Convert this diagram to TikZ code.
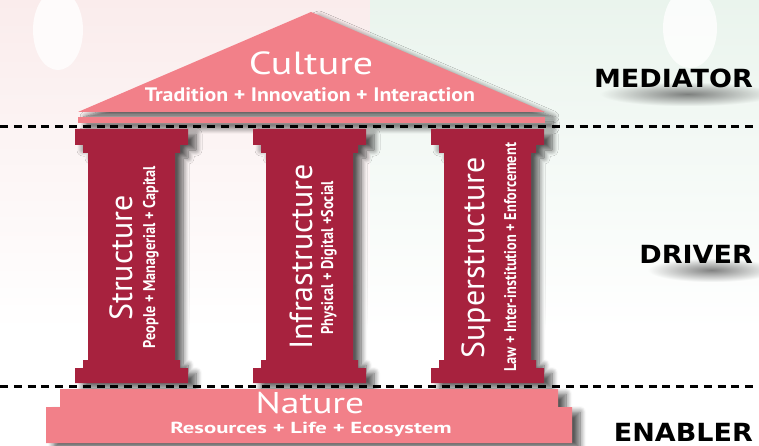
\documentclass[tikz,border=0pt]{standalone}
\usepackage{fontspec}
\usepackage{xcolor}
\usepackage{tikz}
\usetikzlibrary{shadows.blur,fadings}
\setmainfont{PT Sans}
\newfontfamily\Ancha[FakeStretch=1.25]{PT Sans}
\newfontfamily\AnchaSub[FakeStretch=1.12]{PT Sans}
\newfontfamily\AnchaBase[FakeStretch=1.42]{PT Sans}
\newfontfamily\Angosta[FakeStretch=0.84]{PT Sans}
\newfontfamily\Gruesa[FakeStretch=1.08]{DejaVu Sans}
\definecolor{Rosa}{RGB}{242, 128, 137}
\definecolor{Vino}{RGB}{167, 34, 62}
\definecolor{RosaFondo}{RGB}{250, 236, 236}
\definecolor{VerdeFondo}{RGB}{234, 244, 237}
\tikzfading[name=borrosa, inner color=transparent!35, outer color=transparent!100]

\tikzset{
  sombra/.style={blur shadow={shadow xshift=8pt, shadow yshift=-5pt,
      shadow blur radius=6pt, shadow blur steps=8, shadow opacity=65}},
  columna/.pic={
    \fill[Vino, sombra] (-56.5,129) -- (56.5,129) -- (56.5,145) -- (48.5,145)
      -- (48.5,153) -- (43.5,153) -- (43.5,360) -- (48.5,360) -- (48.5,368)
      -- (56.5,368) -- (56.5,383) -- (-56.5,383) -- (-56.5,368) -- (-48.5,368)
      -- (-48.5,360) -- (-43.5,360) -- (-43.5,153) -- (-48.5,153) -- (-48.5,145)
      -- (-56.5,145) -- cycle;
  },
  titulo/.style={text=white, inner sep=0pt, anchor=base,
    font=\fontsize{32}{32}\selectfont},
  subtitulo/.style={text=white, inner sep=0pt, anchor=base,
    font=\Angosta\bfseries\fontsize{17}{17}\selectfont},
  nivel/.style={inner sep=0pt, anchor=base east,
    font=\Gruesa\bfseries\fontsize{25}{25}\selectfont},
  banda/.style={fill=black!75, path fading=borrosa},
  linea/.style={line width=3pt, dash pattern=on 8pt off 5.8pt},
}

\begin{document}
\begin{tikzpicture}[x=1pt, y=-1pt]
  \useasboundingbox (0,0) rectangle (759,446);
  %Fondo
  \fill[RosaFondo, path fading=south] (0,0) rectangle (370,330);
  \fill[VerdeFondo, path fading=south] (370,0) rectangle (759,330);
  \fill[white, opacity=0.8] (58,30) ellipse (25 and 40);
  \fill[white, opacity=0.8] (690,28) ellipse (27 and 40);
  %Techo
  \fill[Rosa, sombra] (78,112) -- (311,12) -- (545,112) -- cycle;
  \fill[Rosa, sombra] (78,117) rectangle (545,123);
  \node[titulo, font=\Ancha\fontsize{32}{32}\selectfont] (cultura) at (311,75) {Culture};
  \node[subtitulo, font=\AnchaSub\bfseries\fontsize{19.5}{19.5}\selectfont] (culturaSub) at (310,102)
    {Tradition + Innovation + Interaction};
  %Columnas
  \pic at (131.5,0) {columna};
  \pic at (309.5,0) {columna};
  \pic at (487.5,0) {columna};
  \node[titulo, rotate=90] (estructura) at (132,258) {Structure};
  \node[subtitulo, rotate=90] (estructuraSub) at (155,257) {People + Managerial + Capital};
  \node[titulo, rotate=90] (infra) at (312,257) {Infrastructure};
  \node[subtitulo, rotate=90] (infraSub) at (333,257.5) {Physical + Digital +Social};
  \node[titulo, rotate=90] (super) at (484,258) {Superstructure};
  \node[subtitulo, rotate=90] (superSub) at (516,257.5) {Law + Inter-institution + Enforcement};
  %Base
  \fill[Rosa, sombra] (60,389) -- (558,389) -- (558,407) -- (572,407) -- (572,443)
    -- (46,443) -- (46,407) -- (60,407) -- cycle;
  \node[titulo, font=\Ancha\fontsize{30}{30}\selectfont] (natura) at (310,413) {Nature};
  \node[subtitulo, font=\AnchaBase\bfseries\fontsize{16}{16}\selectfont] (naturaSub) at (311,433)
    {Resources + Life + Ecosystem};
  %Lineas
  \coordinate (m1) at (0,127);
  \coordinate (m2) at (759,127);
  \coordinate (e1) at (0,386);
  \coordinate (e2) at (759,386);
  \draw[linea] (m1) -- (m2);
  \draw[linea] (e1) -- (e2);
  %Niveles
  \fill[banda] (600,82) rectangle (775,106);
  \fill[banda] (648,258) rectangle (775,282);
  \node[nivel] (mediador) at (753,88) {MEDIATOR};
  \node[nivel] (motor) at (753,263) {DRIVER};
  \node[nivel] (habilitador) at (753,441) {ENABLER};
\end{tikzpicture}
\end{document}
